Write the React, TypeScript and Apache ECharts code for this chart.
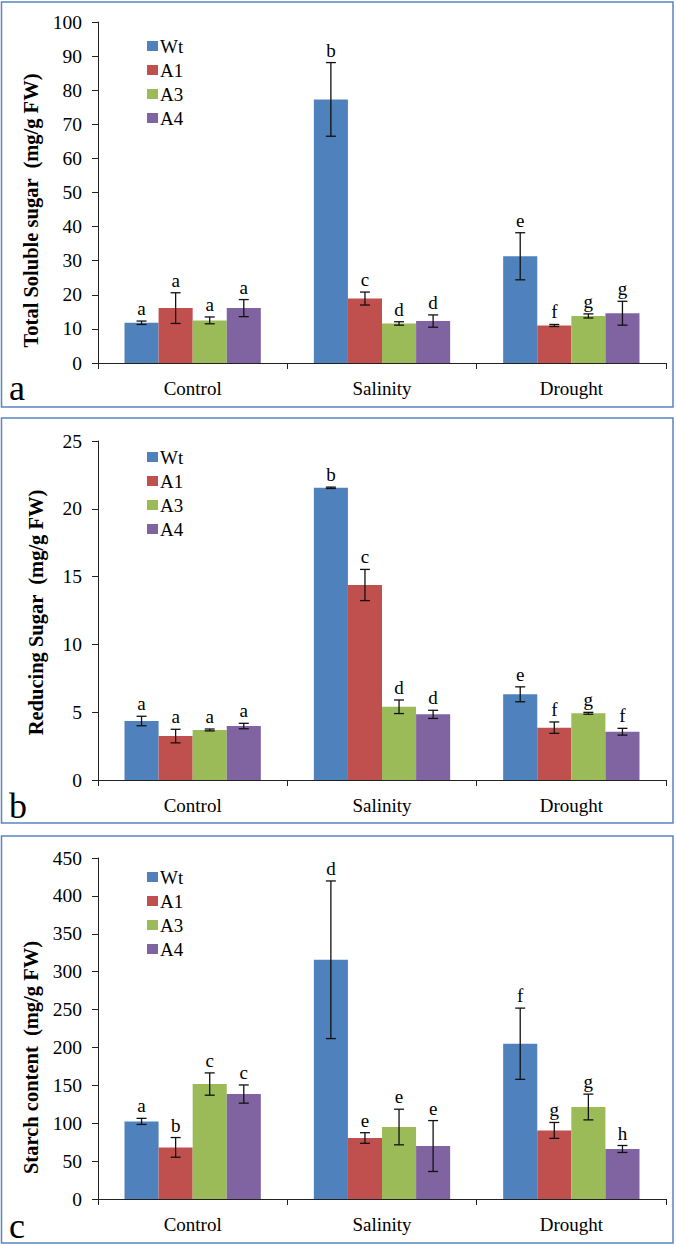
import React, { useEffect, useRef } from "react";
import * as echarts from "echarts";

const categories = ["Control", "Salinity", "Drought"];
const seriesNames = ["Wt", "A1", "A3", "A4"];
const colors = ["#4F81BD", "#C0504D", "#9BBB59", "#8064A2"];

// Panel a: Total soluble sugar (mg/g FW)
const sugarWt = [11.8, 77.3, 31.3];
const sugarA1 = [16.1, 18.9, 11.0];
const sugarA3 = [12.5, 11.6, 13.8];
const sugarA4 = [16.1, 12.3, 14.6];
const sugarWtErr = [0.5, 10.8, 6.9];
const sugarA1Err = [4.5, 1.9, 0.3];
const sugarA3Err = [1.0, 0.5, 0.6];
const sugarA4Err = [2.5, 1.8, 3.5];
const sugarLetters = [["a", "b", "e"], ["a", "c", "f"], ["a", "d", "g"], ["a", "d", "g"]];
const sugarTicks = { min: 0, max: 100, interval: 10 };

// Panel b: Reducing sugar (mg/g FW)
const redWt = [4.35, 21.55, 6.32];
const redA1 = [3.24, 14.38, 3.86];
const redA3 = [3.69, 5.4, 4.92];
const redA4 = [3.98, 4.84, 3.56];
const redWtErr = [0.35, 0.05, 0.55];
const redA1Err = [0.5, 1.15, 0.42];
const redA3Err = [0.07, 0.5, 0.07];
const redA4Err = [0.2, 0.3, 0.25];
const redLetters = [["a", "b", "e"], ["a", "c", "f"], ["a", "d", "g"], ["a", "d", "f"]];
const redTicks = { min: 0, max: 25, interval: 5 };

// Panel c: Starch content (mg/g FW)
const starchWt = [102.4, 315.7, 204.9];
const starchA1 = [68.1, 80.5, 90.5];
const starchA3 = [151.7, 95.0, 121.4];
const starchA4 = [138.5, 69.9, 66.0];
const starchWtErr = [4, 104, 47];
const starchA1Err = [13, 7, 10.5];
const starchA3Err = [14.7, 23.5, 17];
const starchA4Err = [12, 33.6, 4.6];
const starchLetters = [["a", "d", "f"], ["b", "e", "g"], ["c", "e", "g"], ["c", "e", "h"]];
const starchTicks = { min: 0, max: 450, interval: 50 };

const FONT = "'Times New Roman', 'Liberation Serif', 'DejaVu Serif', serif";

const panels = [
  {
    title: "Total Soluble sugar  (mg/g FW)",
    values: [sugarWt, sugarA1, sugarA3, sugarA4],
    errors: [sugarWtErr, sugarA1Err, sugarA3Err, sugarA4Err],
    letters: sugarLetters,
    ticks: sugarTicks,
    grid: { top: 22, height: 341 },
    legendTop: 31.5,
    box: { y: 2, h: 405 },
    tag: "a",
    tagY: 388,
    titleShift: 36,
  },
  {
    title: "Reducing Sugar  (mg/g FW)",
    values: [redWt, redA1, redA3, redA4],
    errors: [redWtErr, redA1Err, redA3Err, redA4Err],
    letters: redLetters,
    ticks: redTicks,
    grid: { top: 441, height: 339 },
    legendTop: 442.5,
    box: { y: 418, h: 405 },
    tag: "b",
    tagY: 806,
    titleShift: 4,
  },
  {
    title: "Starch content  (mg/g FW)",
    values: [starchWt, starchA1, starchA3, starchA4],
    errors: [starchWtErr, starchA1Err, starchA3Err, starchA4Err],
    letters: starchLetters,
    ticks: starchTicks,
    grid: { top: 858, height: 341 },
    legendTop: 862.5,
    box: { y: 836, h: 407 },
    tag: "c",
    tagY: 1226,
    titleShift: 58,
  },
];

const CAT_GAP = 0.28;

function buildOption() {
  const grid: any[] = [];
  const xAxis: any[] = [];
  const yAxis: any[] = [];
  const legend: any[] = [];
  const series: any[] = [];
  const graphic: any[] = [];

  panels.forEach((p, pi) => {
    grid.push({ left: 98, width: 568, top: p.grid.top, height: p.grid.height });
    xAxis.push({
      type: "category",
      gridIndex: pi,
      data: categories,
      axisLine: { lineStyle: { color: "#222", width: 1 } },
      axisTick: { show: true, length: 6, lineStyle: { color: "#222" } },
      axisLabel: { color: "#000", fontFamily: FONT, fontSize: 19, margin: 16 },
    });
    yAxis.push({
      type: "value",
      gridIndex: pi,
      min: p.ticks.min,
      max: p.ticks.max,
      interval: p.ticks.interval,
      name: p.title,
      nameLocation: "middle",
      nameGap: 52,
      nameTextStyle: {
        color: "#000",
        fontFamily: FONT,
        fontSize: 20.5,
        fontWeight: "bold",
        padding: [0, p.titleShift, 0, 0],
      },
      axisLine: { show: true, lineStyle: { color: "#222", width: 1 } },
      axisTick: { show: true, length: 6, lineStyle: { color: "#222" } },
      axisLabel: { color: "#000", fontFamily: FONT, fontSize: 19.5, margin: 16 },
      splitLine: { show: false },
    });
    legend.push({
      data: seriesNames,
      orient: "vertical",
      left: 142,
      top: p.legendTop,
      icon: "rect",
      itemWidth: 11,
      itemHeight: 10,
      itemGap: 5,
      textStyle: { color: "#000", fontFamily: FONT, fontSize: 19, lineHeight: 18, padding: [0, 0, 0, -3] },
    });

    seriesNames.forEach((name, si) => {
      series.push({
        type: "bar",
        name,
        xAxisIndex: pi,
        yAxisIndex: pi,
        data: p.values[si],
        barGap: "0%",
        barCategoryGap: CAT_GAP * 100 + "%",
        itemStyle: { color: colors[si] },
      });
    });

    const errData: any[] = [];
    const errLetters: string[] = [];
    seriesNames.forEach((_, si) => {
      categories.forEach((_c, ci) => {
        errData.push([ci, si, p.values[si][ci], p.errors[si][ci]]);
        errLetters.push(p.letters[si][ci]);
      });
    });

    series.push({
      type: "custom",
      xAxisIndex: pi,
      yAxisIndex: pi,
      data: errData,
      clip: false,
      z: 10,
      renderItem: (params: any, api: any) => {
        const ci = api.value(0);
        const si = api.value(1);
        const v = api.value(2);
        const e = api.value(3);
        const band = api.size([1, 0])[0];
        const bw = (band * (1 - CAT_GAP)) / 4;
        const cx = api.coord([ci, 0])[0] + (si - 1.5) * bw;
        const yt = api.coord([ci, v + e])[1];
        const yb = api.coord([ci, v - e])[1];
        const cap = 5;
        const ls = { stroke: "#111", lineWidth: 1.3 };
        return {
          type: "group",
          children: [
            { type: "line", shape: { x1: cx, y1: yt, x2: cx, y2: yb }, style: ls },
            { type: "line", shape: { x1: cx - cap, y1: yt, x2: cx + cap, y2: yt }, style: ls },
            { type: "line", shape: { x1: cx - cap, y1: yb, x2: cx + cap, y2: yb }, style: ls },
            {
              type: "text",
              style: {
                text: errLetters[params.dataIndex],
                x: cx,
                y: yt - 3,
                align: "center",
                verticalAlign: "bottom",
                fontFamily: FONT,
                fontSize: 19,
                fill: "#000",
              },
            },
          ],
        };
      },
    });

    graphic.push({
      type: "rect",
      shape: { x: 1.5, y: p.box.y, width: 671.5, height: p.box.h },
      style: { fill: "none", stroke: "#5A85C0", lineWidth: 1.5 },
      silent: true,
    });
    graphic.push({
      type: "text",
      x: 9,
      y: p.tagY,
      style: {
        text: p.tag,
        fontFamily: FONT,
        fontSize: 36,
        fill: "#000",
        align: "left",
        verticalAlign: "middle",
      },
      silent: true,
    });
  });

  return {
    animation: false,
    backgroundColor: "#fff",
    grid,
    xAxis,
    yAxis,
    legend,
    series,
    graphic,
  };
}

export default function App() {
  const ref = useRef<HTMLDivElement>(null);
  useEffect(() => {
    if (!ref.current) return;
    const chart = echarts.init(ref.current, undefined, { renderer: "svg" });
    chart.setOption(buildOption() as any);
    return () => chart.dispose();
  }, []);
  return (
    <div
      ref={ref}
      style={{ position: "absolute", left: 0, top: 0, width: 676, height: 1245, background: "#fff" }}
    />
  );
}
